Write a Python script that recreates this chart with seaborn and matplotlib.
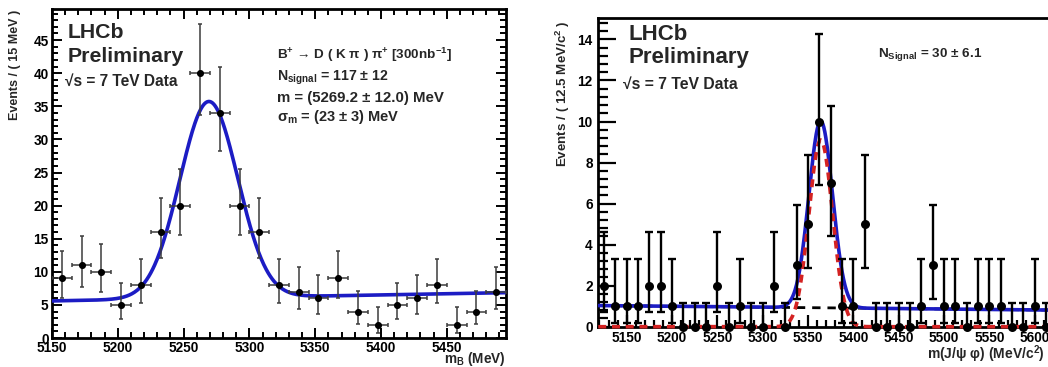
import math
import numpy as np
import matplotlib
matplotlib.use("Agg")
import matplotlib.pyplot as plt
from matplotlib.ticker import MultipleLocator
import seaborn as sns

# ---------------- data ----------------
# Left panel: B+ -> D(K pi) pi+ , 15 MeV bins starting at 5150 MeV
b_lo = 5150.0
b_width = 15.0
b_counts = [9, 11, 10, 5, 8, 16, 20, 40, 34, 20, 16, 8, 7, 6, 9, 4, 2, 5, 6, 8, 2, 4, 7]
b_xticks = [5150, 5200, 5250, 5300, 5350, 5400, 5450]
b_yticks = [0, 5, 10, 15, 20, 25, 30, 35, 40, 45]
# fit: gaussian signal + linear background
b_mean = 5269.2
b_sigma = 22.0
b_amp = 29.7
b_bg_left = 5.6
b_bg_right = 6.85

# Right panel: Bs -> J/psi phi , 12.5 MeV bins
bs_lo = 5118.75
bs_width = 12.5
bs_counts = [2, 1, 1, 1, 2, 2, 1, 0, 0, 0, 2, 0, 1, 0, 0, 2, 0, 3, 5, 10,
             7, 1, 1, 5, 0, 0, 0, 0, 1, 3, 1, 1, 0, 1, 1, 1, 0, 0, 1, 0]
bs_xticks = [5150, 5200, 5250, 5300, 5350, 5400, 5450, 5500, 5550, 5600]
bs_yticks = [0, 2, 4, 6, 8, 10, 12, 14]
bs_mean = 5364.0
bs_sigma = 13.0
bs_amp = 9.1
bs_bg_left = 1.03
bs_bg_right = 0.81


# ---------------- Poisson (Garwood) error bars ----------------
def pois_cdf(k, mu):
    term = math.exp(-mu)
    s = term
    for i in range(1, k + 1):
        term *= mu / i
        s += term
    return s


def solve(f, a, b, target, decreasing=True):
    for _ in range(80):
        m = 0.5 * (a + b)
        v = f(m)
        if (v > target) == decreasing:
            a = m
        else:
            b = m
    return 0.5 * (a + b)


def garwood(n):
    cl = 0.682689
    if n == 0:
        return 0.0, -math.log(1 - cl)
    alpha = (1 - cl) / 2
    hi = solve(lambda mu: pois_cdf(n, mu), n, n + 20 + 6 * math.sqrt(n), alpha)
    lo = solve(lambda mu: pois_cdf(n - 1, mu), 0.0, float(n), 1 - alpha)
    return lo, hi


def errs(counts):
    lo, hi = [], []
    for n in counts:
        l, h = garwood(n)
        lo.append(n - l)
        hi.append(h - n)
    return np.array(lo), np.array(hi)


# ---------------- style ----------------
sns.set_theme(style="ticks")
plt.rcParams["font.family"] = ["Liberation Sans", "DejaVu Sans"]
plt.rcParams["font.weight"] = "bold"
plt.rcParams["mathtext.fontset"] = "custom"
plt.rcParams["mathtext.rm"] = "Liberation Sans:bold"
plt.rcParams["mathtext.it"] = "Liberation Sans:bold"
plt.rcParams["mathtext.bf"] = "Liberation Sans:bold"
plt.rcParams["mathtext.sf"] = "Liberation Sans:bold"
plt.rcParams["axes.edgecolor"] = "black"
plt.rcParams["xtick.color"] = "black"
plt.rcParams["ytick.color"] = "black"

W, H = 1048, 367
fig = plt.figure(figsize=(W / 100, H / 100), dpi=100)
fig.patch.set_facecolor("white")


def fx(px):
    return px / W


def fy(py):
    return 1 - py / H


BLUE = "#1c1cc4"
RED = "#d42222"

# ================= LEFT PANEL =================
ax1 = fig.add_axes([fx(52), fy(338), fx(506 - 52), (338 - 9) / H])
b_centers = b_lo + b_width * (np.arange(len(b_counts)) + 0.5)
b_hi_edge = b_lo + b_width * len(b_counts)
b_elo, b_ehi = errs(b_counts)

xx1 = np.linspace(b_lo, b_hi_edge, 700)
bg1 = b_bg_left + (b_bg_right - b_bg_left) * (xx1 - b_lo) / (b_hi_edge - b_lo)
fit1 = bg1 + b_amp * np.exp(-0.5 * ((xx1 - b_mean) / b_sigma) ** 2)
sns.lineplot(x=xx1, y=fit1, ax=ax1, color=BLUE, linewidth=2.6, sort=False, zorder=3)

ax1.errorbar(b_centers, b_counts, yerr=[b_elo, b_ehi], xerr=b_width / 2,
             fmt="none", ecolor="#3c3c3c", elinewidth=1.1, capsize=1.2,
             capthick=1.1, zorder=4)
sns.scatterplot(x=b_centers, y=b_counts, ax=ax1, color="black", s=26,
                edgecolor="black", linewidth=0, zorder=5, legend=False)

ax1.set_xlim(b_lo, b_hi_edge)
ax1.set_ylim(0, 49.7)
ax1.set_xticks(b_xticks)
ax1.set_yticks(b_yticks)
ax1.xaxis.set_minor_locator(MultipleLocator(10))
ax1.yaxis.set_minor_locator(MultipleLocator(1))
ax1.tick_params(which="both", direction="in", top=True, right=True,
                labelsize=9.8, width=1.4)
ax1.tick_params(which="major", length=7)
ax1.tick_params(which="minor", length=4)
ax1.tick_params(axis="x", pad=2.0)
ax1.tick_params(axis="y", pad=2.5)
for s in ax1.spines.values():
    s.set_linewidth(2.0)
    s.set_color("black")
ax1.set_xlabel("")
ax1.set_ylabel("")

fig.text(fx(15), fy(10), "Events / ( 15 MeV )", rotation=90, rotation_mode="anchor",
         ha="right", va="center", fontsize=9, fontweight="bold")
fig.text(fx(506), fy(359.5), "m$_{B}$ (MeV)", ha="right", va="center",
         fontsize=9.8, fontweight="bold")

fig.text(fx(68), fy(33), "LHCb", ha="left", va="center", fontsize=15.3, fontweight="bold")
fig.text(fx(68), fy(57), "Preliminary", ha="left", va="center", fontsize=15.3,
         fontweight="bold")
fig.text(fx(65), fy(81), "\u221as = 7 TeV Data", ha="left", va="center", fontsize=11.2,
         fontweight="bold")

fig.text(fx(277), fy(55), "B$^{+}$ \u2192 D ( K \u03c0 ) \u03c0$^{+}$ [300nb$^{-1}$]",
         ha="left", va="center", fontsize=9.7, fontweight="bold")
fig.text(fx(277), fy(78), "N$_{\\rm signal}$ = 117 \u00b1 12", ha="left", va="center",
         fontsize=10.2, fontweight="bold")
fig.text(fx(277), fy(98), "m = (5269.2 \u00b1 12.0) MeV", ha="left", va="center",
         fontsize=10.8, fontweight="bold")
fig.text(fx(277), fy(117), "\u03c3$_{\\rm m}$ = (23 \u00b1 3) MeV", ha="left", va="center",
         fontsize=10.5, fontweight="bold")

# ================= RIGHT PANEL =================
n_bs = len(bs_counts)
bs_hi_edge = bs_lo + bs_width * n_bs
px_per_mev = 0.907
ax2 = fig.add_axes([fx(598.3), fy(326.7), fx((bs_hi_edge - bs_lo) * px_per_mev),
                    (326.7 - 18.3) / H])
bs_centers = bs_lo + bs_width * (np.arange(n_bs) + 0.5)
bs_elo, bs_ehi = errs(bs_counts)

xx2 = np.linspace(bs_lo, bs_hi_edge, 900)
bg2 = bs_bg_left + (bs_bg_right - bs_bg_left) * (xx2 - bs_lo) / (bs_hi_edge - bs_lo)
sig2 = bs_amp * np.exp(-0.5 * ((xx2 - bs_mean) / bs_sigma) ** 2)

sns.lineplot(x=xx2, y=bg2, ax=ax2, color="black", linewidth=2.0, sort=False,
             zorder=2).lines[-1].set_dashes((3, 2.5))
sns.lineplot(x=xx2, y=bg2 + sig2, ax=ax2, color=BLUE, linewidth=2.6, sort=False, zorder=3)
ln_red = sns.lineplot(x=xx2, y=sig2, ax=ax2, color=RED, linewidth=2.6, sort=False,
                      zorder=4).lines[-1]
ln_red.set_dashes((2.2, 1.6))
ln_red.set_clip_on(False)

ax2.errorbar(bs_centers, bs_counts, yerr=[bs_elo, bs_ehi], fmt="none", ecolor="black",
             elinewidth=1.7, capsize=2.6, capthick=1.7, zorder=5)
sns.scatterplot(x=bs_centers, y=bs_counts, ax=ax2, color="black", s=42,
                edgecolor="black", linewidth=0, zorder=6, legend=False, clip_on=False)

ax2.set_xlim(bs_lo, bs_hi_edge)
ax2.set_ylim(0, 15.03)
ax2.set_xticks(bs_xticks)
ax2.set_yticks(bs_yticks)
ax2.xaxis.set_minor_locator(MultipleLocator(10))
ax2.yaxis.set_minor_locator(MultipleLocator(0.4))
ax2.tick_params(which="both", direction="in", top=False, right=False,
                labelsize=9.8, width=1.6)
ax2.tick_params(axis="y", which="major", length=13, pad=4)
ax2.tick_params(axis="y", which="minor", length=7)
ax2.tick_params(axis="x", which="major", length=9, pad=3)
ax2.tick_params(axis="x", which="minor", length=5)
for s in ax2.spines.values():
    s.set_linewidth(2.0)
    s.set_color("black")
ax2.spines["right"].set_visible(False)
ax2.set_xlabel("")
ax2.set_ylabel("")

fig.text(fx(563), fy(20), "Events / ( 12.5 MeV/c$^{2}$ )", rotation=90,
         rotation_mode="anchor", ha="right", va="center", fontsize=9.6, fontweight="bold")
fig.text(fx(1045), fy(354), "m(J/\u03c8 \u03c6) (MeV/c$^{2}$)", ha="right", va="center",
         fontsize=10, fontweight="bold")

fig.text(fx(628), fy(35), "LHCb", ha="left", va="center", fontsize=16, fontweight="bold")
fig.text(fx(628), fy(58), "Preliminary", ha="left", va="center", fontsize=16,
         fontweight="bold")
fig.text(fx(623), fy(84), "\u221as = 7 TeV Data", ha="left", va="center", fontsize=11.3,
         fontweight="bold")
fig.text(fx(878), fy(55), "N$_{\\rm Signal}$ = 30 \u00b1 6.1", ha="left", va="center",
         fontsize=9.7, fontweight="bold")

fig.savefig("out.png", dpi=100, facecolor="white")
